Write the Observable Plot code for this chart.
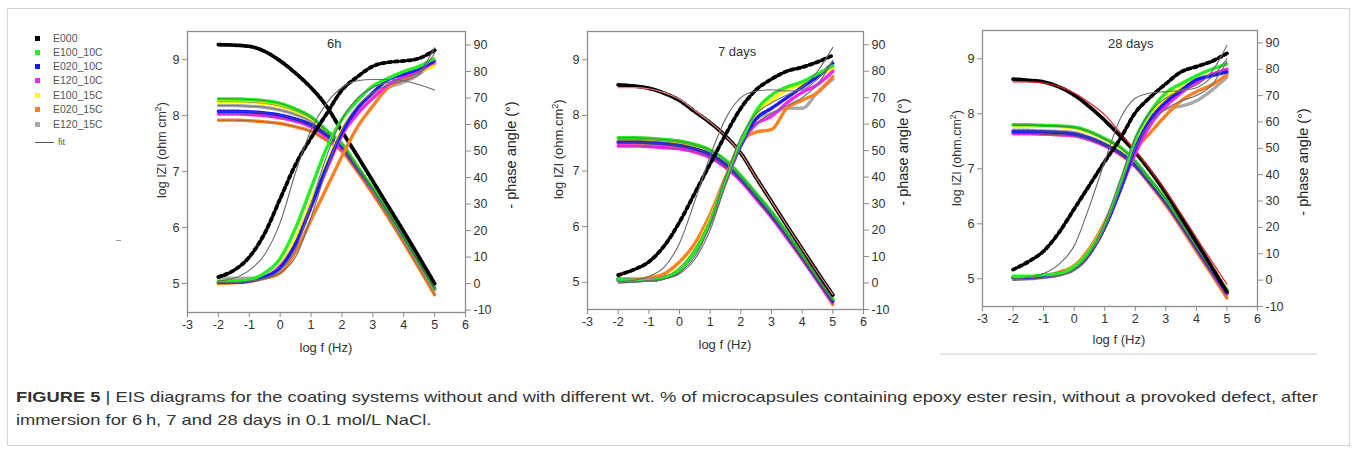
<!DOCTYPE html>
<html><head><meta charset="utf-8">
<script src="https://cdn.jsdelivr.net/npm/d3@7"></script>
<script src="https://cdn.jsdelivr.net/npm/@observablehq/plot@0.6"></script>
<style>
html,body{margin:0;padding:0;background:#fff}
body{width:1357px;height:453px;position:relative;overflow:hidden;font-family:"Liberation Sans",Arial,sans-serif}
.abs{position:absolute}
.lab{position:absolute;white-space:nowrap;color:#333;transform-origin:center center}
.leg{position:absolute;font-size:10.5px;color:#555;white-space:nowrap}
.sw{position:absolute;width:5px;height:5px}
</style></head><body>
<div id="root"></div>
<script>
// ---------- data ----------
const logF = [-2,-1.5,-1,-0.5,0,0.5,1,1.5,2,2.5,3,3.5,4,4.5,5];
const seriesNames = ["E000","E100_10C","E020_10C","E120_10C","E100_15C","E020_15C","E120_15C"];
const seriesColors = ["#000000","#22ee22","#1a1aff","#ff22ff","#ffff00","#ff8020","#a8a8a8"];
const xTicks = [-3,-2,-1,0,1,2,3,4,5,6];
const zTicks = [5,6,7,8,9];
const phaseTicks = [-10,0,10,20,30,40,50,60,70,80,90];
const fitNames = ["fit E000","fit A","fit B"];

// 6 h  (series order as seriesNames)
const z6h = [
  [9.27,9.26,9.24,9.15,8.98,8.76,8.5,8.17,7.72,7.28,6.83,6.38,5.93,5.47,5.0],
  [8.3,8.3,8.29,8.27,8.22,8.12,7.98,7.74,7.5,7.1,6.7,6.27,5.82,5.37,4.9],
  [8.08,8.08,8.07,8.05,8.01,7.94,7.84,7.66,7.44,7.07,6.69,6.27,5.83,5.38,4.92],
  [8.03,8.03,8.02,8.0,7.96,7.9,7.8,7.62,7.41,7.05,6.67,6.25,5.8,5.35,4.89],
  [8.25,8.25,8.24,8.22,8.17,8.08,7.95,7.71,7.47,7.08,6.69,6.26,5.81,5.36,4.9],
  [7.92,7.92,7.91,7.89,7.86,7.8,7.72,7.56,7.36,7.0,6.6,6.18,5.73,5.27,4.8],
  [8.18,8.18,8.17,8.15,8.1,8.02,7.9,7.68,7.45,7.07,6.68,6.26,5.82,5.37,4.9]
];
const phase6h = [
  [2.5,5,10,19,32,45,55,64,73,78,82,83.5,84,85,88],
  [1,1,1.5,4,9.5,21,36,51,62,69,74.5,77.5,80,82,85],
  [0.5,0.5,1,2.5,6,15,29,44,57,66,72,77,79,81,84],
  [0.5,0.5,1,2.5,6.5,15,29,43,56,64,70,75,78,80,84],
  [0.5,0.5,1,2.5,7,17,31,45,58,66,71,75,78,80,82],
  [0,0.3,0.8,2,4,12,24,36,48,59,67,74,77,80,83],
  [2.5,2,2,3,7,16,30,44,57,65,70,74,76,79,84]
];
const fitPhase6h = [
  [1,2,5,11,23,42,58,68,74,76.5,77,77,76.5,75,73],
  [0.5,0.5,1,2,5,13,30,48,62,70,74,76,77.5,80,89],
  [0.3,0.3,0.8,1.8,4,10,25,43,58,67,72,75,76.5,79,87]
];

// 7 days
const z7d = [
  [8.55,8.53,8.49,8.4,8.27,8.07,7.87,7.63,7.32,6.88,6.45,6.02,5.6,5.18,4.77],
  [7.6,7.6,7.59,7.57,7.54,7.48,7.38,7.2,6.92,6.6,6.27,5.9,5.5,5.1,4.7],
  [7.52,7.52,7.51,7.49,7.46,7.4,7.3,7.12,6.86,6.54,6.2,5.84,5.45,5.05,4.66],
  [7.45,7.45,7.44,7.42,7.4,7.34,7.24,7.07,6.82,6.5,6.17,5.8,5.42,5.02,4.62],
  [7.57,7.57,7.56,7.54,7.51,7.45,7.35,7.17,6.9,6.58,6.25,5.88,5.48,5.08,4.68],
  [7.5,7.5,7.49,7.47,7.44,7.37,7.25,7.06,6.85,6.5,6.17,5.8,5.42,5.02,4.6],
  [7.55,7.55,7.54,7.52,7.48,7.41,7.3,7.1,6.84,6.52,6.18,5.82,5.43,5.04,4.66]
];
const phase7d = [
  [3,5,8,14,23,34,45,56,66,73,77,80,81.5,83.5,86],
  [1.5,1,1,2,5,12,23,39,53,65,71,74,76,79,82],
  [1.5,1,1,2,5,12,23,39,52,62,66,70,74,78,83],
  [1,1,1,2,5,12,23,38,52,60,63,68,72,75,80],
  [1,1,1,2,5.5,12.5,24,39,53,64,69,73,75,78,81],
  [1.5,1.5,2,3.5,8,15,26,40,53,57,58,66,69,72,78],
  [1,1,1,2,5,12,23,38,52,62,64,66,66,72,77]
];
const fitPhase7d = [
  [0.5,1,2.5,6,15,31,48,62,70,72.5,73,72.5,73,77,84],
  [0,0.3,0.8,1.5,4,10,22,40,55,64,68,71,74,80,89],
  [0,0.3,0.8,1.5,3.5,9,20,37,52,60,64,67,70,75,84]
];
const fitZ7d = [8.5,8.5,8.48,8.41,8.29,8.09,7.88,7.63,7.32,6.88,6.45,6.02,5.6,5.18,4.78];

// 28 days
const z28d = [
  [8.63,8.61,8.58,8.49,8.34,8.13,7.88,7.6,7.3,6.95,6.56,6.12,5.67,5.22,4.76],
  [7.8,7.8,7.79,7.78,7.76,7.68,7.55,7.4,7.14,6.8,6.45,6.04,5.62,5.2,4.8],
  [7.68,7.68,7.67,7.66,7.63,7.56,7.44,7.29,7.06,6.74,6.39,5.99,5.57,5.15,4.75],
  [7.64,7.64,7.63,7.62,7.6,7.53,7.42,7.27,7.05,6.72,6.37,5.97,5.55,5.13,4.72],
  [7.79,7.79,7.78,7.77,7.74,7.66,7.53,7.38,7.12,6.79,6.44,6.03,5.61,5.19,4.78],
  [7.64,7.64,7.63,7.62,7.6,7.53,7.42,7.26,7.04,6.7,6.34,5.93,5.5,5.08,4.65],
  [7.7,7.7,7.69,7.68,7.66,7.57,7.45,7.3,7.06,6.72,6.36,5.96,5.55,5.13,4.73]
];
const phase28d = [
  [4,7,11,18,27,36,45,53.5,63.5,69.5,74.5,79,81,83,86],
  [1.5,1.5,2,2.5,5,11,21,36,53.5,64,71,74.5,77.5,80,82],
  [1,1,1.5,2.5,4.5,10,20,34,50,61,67.5,72,76,77.5,79],
  [1,1,1.5,2.5,4.5,10,20,34,48,59,66,71,75,78,80],
  [1,1,1.5,2.5,5,11,21,35,51,62,69,73,76,78,80],
  [1,1,1.5,3,5.5,12,22,35,49,56,62.5,68,71.5,74,78],
  [0.5,0.5,1,2,4.5,10,20,34,50,60,65,66,68,72,77]
];
const fitPhase28d = [
  [0.5,1,2.5,6,13,28,45,61,69,71,71.5,72,73,77,84],
  [0,0.3,0.8,1.8,4,10,22,38,54,64,69,72,74,79,89],
  [0,0.3,0.8,1.5,3.5,9,20,35,50,60,65,68,70,74,83]
];
const fitZ28d = [8.58,8.58,8.56,8.5,8.38,8.2,7.98,7.66,7.33,6.98,6.6,6.18,5.75,5.32,4.9];

// ---------- helpers ----------
const root = document.getElementById("root");
function el(tag, cls, css, text) {
  const e = document.createElement(tag);
  if (cls) e.className = cls;
  Object.assign(e.style, css || {});
  if (text != null) e.textContent = text;
  root.appendChild(e);
  return e;
}
function rows(names, arrays, order) {
  const out = [];
  (order || names.map((_, i) => i)).forEach(i => arrays[i].forEach((v, j) => out.push({s: names[i], f: logF[j], v})));
  return out;
}
const drawOrder = [6,5,4,3,2,1]; // coloured series, E000 drawn last
const fmt = d => String(d);

function drawPanel(cfg) {
  const mL = 40, mR = 40, mT = 6, mB = 30;
  const W = cfg.plotW + mL + mR, H = cfg.plotH + mT + mB;
  const zCol = rows(seriesNames, cfg.z, drawOrder);
  const zBlack = rows(seriesNames, cfg.z, [0]);
  const pCol = rows(seriesNames, cfg.phase, drawOrder);
  const pBlack = rows(seriesNames, cfg.phase, [0]);
  const fitP = rows(fitNames, cfg.fitPhase);
  const common = {
    width: W, height: H, marginLeft: mL, marginRight: mR, marginTop: mT, marginBottom: mB,
    color: {domain: seriesNames, range: seriesColors},
    style: {background: "transparent", fontFamily: "'Liberation Sans', Arial, sans-serif", fontSize: "12.5px", color: "#333", overflow: "visible"}
  };
  const zMarks = [
    Plot.frame({stroke: "#8c8c8c", strokeWidth: 1.3}),
    Plot.axisX({ticks: xTicks, tickFormat: fmt, tickSize: 5, tickPadding: 3, label: null, stroke: "#8c8c8c", fill: "#333"}),
    Plot.axisY({anchor: "left", ticks: zTicks, tickFormat: fmt, tickSize: 5, tickPadding: 3, label: null, stroke: "#8c8c8c", fill: "#333"}),
    Plot.line(zCol, {x: "f", y: "v", z: "s", stroke: "s", strokeWidth: 3.4, strokeDasharray: "2.8,1.6", curve: "monotone-x"}),
    Plot.line(zCol, {x: "f", y: "v", z: "s", stroke: "#555", strokeWidth: 0.7, strokeOpacity: 0.8, curve: "monotone-x"}),
    Plot.line(zBlack, {x: "f", y: "v", stroke: "#000", strokeWidth: 3.8, strokeDasharray: "3.4,1.8", curve: "monotone-x"})
  ];
  if (cfg.fitZ) zMarks.push(Plot.line(cfg.fitZ.map((v, j) => ({f: logF[j], v})), {x: "f", y: "v", stroke: cfg.fitZColor, strokeWidth: 1.2, curve: "monotone-x"}));
  const zPlot = Plot.plot({...common, x: {domain: [-3, 6]}, y: {domain: cfg.zDomain}, marks: zMarks});
  const pPlot = Plot.plot({...common, x: {domain: [-3, 6], axis: null}, y: {domain: cfg.phaseDomain},
    marks: [
      Plot.axisY({anchor: "right", ticks: phaseTicks, tickFormat: fmt, tickSize: 5, tickPadding: 3, label: null, stroke: "#8c8c8c", fill: "#333"}),
      Plot.line(pCol, {x: "f", y: "v", z: "s", stroke: "s", strokeWidth: 3.4, strokeDasharray: "2.8,1.8", curve: "monotone-x"}),
      Plot.line(pBlack, {x: "f", y: "v", stroke: "#000", strokeWidth: 3.8, strokeDasharray: "3.4,3.2", curve: "monotone-x"}),
      Plot.line(fitP, {x: "f", y: "v", z: "s", stroke: "#6a6a6a", strokeWidth: 1.1, curve: "monotone-x"})
    ]});
  const wrap = el("div", "abs", {left: (cfg.x0 - mL) + "px", top: (cfg.y0 - mT) + "px", width: W + "px", height: H + "px"});
  zPlot.style.position = "absolute"; zPlot.style.left = "0px"; zPlot.style.top = "0px";
  pPlot.style.position = "absolute"; pPlot.style.left = "0px"; pPlot.style.top = "0px";
  wrap.appendChild(zPlot); wrap.appendChild(pPlot);
  // labels
  const t = el("div", "lab", {fontSize: "13px", color: "#333"}, cfg.title);
  t.style.left = (cfg.titleX - t.offsetWidth / 2) + "px"; t.style.top = (cfg.titleY - 8) + "px";
  const lx = el("div", "lab", {fontSize: "13px", color: "#333"}, "log f (Hz)");
  lx.style.left = (cfg.xlabX - lx.offsetWidth / 2) + "px"; lx.style.top = (cfg.xlabY - 8) + "px";
  const ly = el("div", "lab", {fontSize: cfg.yFont + "px", color: "#333"});
  ly.innerHTML = cfg.yLabel;
  ly.style.left = (cfg.ylabX - ly.offsetWidth / 2) + "px"; ly.style.top = (cfg.ylabY - ly.offsetHeight / 2) + "px";
  ly.style.transform = "rotate(-90deg)";
  const ry = el("div", "lab", {fontSize: "14.5px", color: "#222"}, "- phase angle (°)");
  ry.style.left = (cfg.rlabX - ry.offsetWidth / 2) + "px"; ry.style.top = (cfg.rlabY - ry.offsetHeight / 2) + "px";
  ry.style.transform = "rotate(-90deg)";
}

// frame around figure
el("div", "abs", {left: "7px", top: "8px", width: "1341px", height: "436px", border: "1px solid #d4d4d4"});

drawPanel({x0: 187, y0: 31, plotW: 278, plotH: 281, zDomain: [4.482, 9.505], phaseDomain: [-10.9, 95.1],
  z: z6h, phase: phase6h, fitPhase: fitPhase6h, title: "6h", titleX: 334, titleY: 44,
  xlabX: 326, xlabY: 348, yLabel: "log IZI (ohm cm<sup style='font-size:70%'>2</sup>)", yFont: 12.5, ylabX: 161, ylabY: 150,
  rlabX: 510, rlabY: 155});
drawPanel({x0: 587, y0: 31, plotW: 276, plotH: 278, zDomain: [4.51, 9.51], phaseDomain: [-10, 95],
  z: z7d, phase: phase7d, fitPhase: fitPhase7d, fitZ: fitZ7d, fitZColor: "#f08080", title: "7 days", titleX: 737, titleY: 52,
  xlabX: 725, xlabY: 345, yLabel: "log IZI (ohm.cm<sup style='font-size:70%'>2</sup>)", yFont: 13, ylabX: 558, ylabY: 149,
  rlabX: 902, rlabY: 152});
drawPanel({x0: 982, y0: 30, plotW: 275, plotH: 276, zDomain: [4.496, 9.515], phaseDomain: [-10, 94.7],
  z: z28d, phase: phase28d, fitPhase: fitPhase28d, fitZ: fitZ28d, fitZColor: "#e82020", title: "28 days", titleX: 1131, titleY: 44,
  xlabX: 1119, xlabY: 340, yLabel: "log IZI (ohm.cm<sup style='font-size:70%'>2</sup>)", yFont: 12.5, ylabX: 956, ylabY: 158,
  rlabX: 1302, rlabY: 162});

// legend
const legRowY = [38, 52, 66, 80, 95, 109, 124];
seriesNames.forEach((s, i) => {
  el("div", "sw", {left: "35px", top: (legRowY[i] - 2.5) + "px", background: seriesColors[i]});
  const t = el("div", "leg", {left: "53px"}, s);
  t.style.top = (legRowY[i] - t.offsetHeight / 2) + "px";
});
el("div", "abs", {left: "35px", top: "142px", width: "19px", height: "1px", background: "#555"});
const ft = el("div", "leg", {left: "58px", fontSize: "9px"}, "fit");
ft.style.top = (142 - ft.offsetHeight / 2) + "px";

// stray marks in the original image
el("div", "abs", {left: "116px", top: "240px", width: "5px", height: "1px", background: "#999"});
el("div", "abs", {left: "940px", top: "353px", width: "377px", height: "2px", background: "#e6e6e6"});

// caption
const cap1 = el("div", "abs", {left: "16px", top: "388px", fontSize: "15px", color: "#333", whiteSpace: "nowrap", transformOrigin: "left top"});
cap1.innerHTML = "<b>FIGURE 5</b> | EIS diagrams for the coating systems without and with different wt. % of microcapsules containing epoxy ester resin, without a provoked defect, after";
const cap2 = el("div", "abs", {left: "16px", top: "411px", fontSize: "15px", color: "#333", whiteSpace: "nowrap", transformOrigin: "left top"}, "immersion for 6\u2009h, 7 and 28 days in 0.1 mol/L NaCl.");
const s = 1302 / cap1.offsetWidth;
cap1.style.transform = `scaleX(${s})`;
cap2.style.transform = `scaleX(${s})`;
</script>
</body></html>
